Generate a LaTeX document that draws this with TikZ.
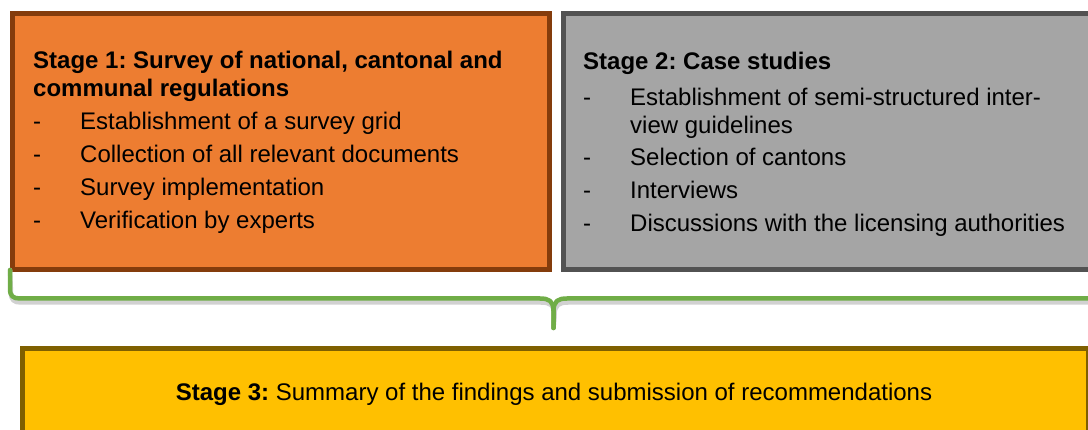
\documentclass[tikz,border=0pt]{standalone}
\usepackage{fontspec}
\setmainfont{Liberation Sans}
\frenchspacing
\definecolor{stageorange}{HTML}{ED7D31}
\definecolor{orangeline}{HTML}{843C0C}
\definecolor{stagegrey}{HTML}{A5A5A5}
\definecolor{greyline}{HTML}{525252}
\definecolor{stageyellow}{HTML}{FFC000}
\definecolor{yellowline}{HTML}{7F6000}
\definecolor{bracegreen}{HTML}{70AD47}
\newcommand{\dashitem}{\makebox[47pt][l]{-}}
\newcommand{\dashgap}{\hspace*{47pt}}
\tikzset{
  stagebox/.style={draw, line width=5pt, inner sep=0pt, anchor=north west},
  stagetext/.style={inner sep=0pt, anchor=base west, align=left,
    font=\fontsize{24pt}{28pt}\selectfont},
  bracepath/.style={line width=4.5pt, line cap=round, line join=round}
}
\begin{document}
\begin{tikzpicture}[x=1pt,y=-1pt]
        \clip (0,0) rectangle (1088,430);
        %boxes
        \node[stagebox, fill=stageorange, draw=orangeline,
          minimum width=537pt, minimum height=256pt] (stageone) at (9.5,11.5) {};
        \node[stagebox, fill=stagegrey, draw=greyline,
          minimum width=534pt, minimum height=256pt] (stagetwo) at (560.5,11.5) {};
        \node[stagebox, fill=stageyellow, draw=yellowline,
          minimum width=1066pt, minimum height=100pt] (stagethree) at (19.5,346.5) {};
        %texts (base = last line)
        \node[stagetext] (stageonetext) at (33,229) {%
          \textbf{Stage 1: Survey of national, cantonal and}\\
          \textbf{communal regulations}\\[5pt]
          \dashitem Establishment of a survey grid\\[5pt]
          \dashitem Collection of all relevant documents\\[5pt]
          \dashitem Survey implementation\\[5pt]
          \dashitem Verification by experts};
        \node[stagetext] (stagetwotext) at (583,232) {%
          \textbf{Stage 2: Case studies}\\[8pt]
          \dashitem Establishment of semi-structured inter-\\
          \dashgap view guidelines\\[4pt]
          \dashitem Selection of cantons\\[5pt]
          \dashitem Interviews\\[5pt]
          \dashitem Discussions with the licensing authorities};
        \node[stagetext, anchor=base] (stagethreetext) at (554,400.5)
          {\textbf{Stage 3:} Summary of the findings and submission of recommendations};
        %brace
        \coordinate (braceleft) at (10,270);
        \coordinate (braceright) at (1097,270);
        \coordinate (bracetip) at (553.5,328);
        \foreach \dx/\dy/\col in {1/4/black!18, 0/0/bracegreen}{
          \begin{scope}[shift={(\dx,\dy)}]
            \draw[bracepath, draw=\col] (braceleft) -- (10,289)
              .. controls (10,296) and (13,298.5) .. (20,298.5) -- (540,298.5)
              .. controls (549,298.5) and (553.5,301) .. (553.5,311) -- (bracetip);
            \draw[bracepath, draw=\col] (bracetip) -- (553.5,311)
              .. controls (553.5,301) and (558,298.5) .. (567,298.5) -- (1087,298.5)
              .. controls (1094,298.5) and (1097,296) .. (1097,289) -- (braceright);
          \end{scope}
        }
\end{tikzpicture}
\end{document}
